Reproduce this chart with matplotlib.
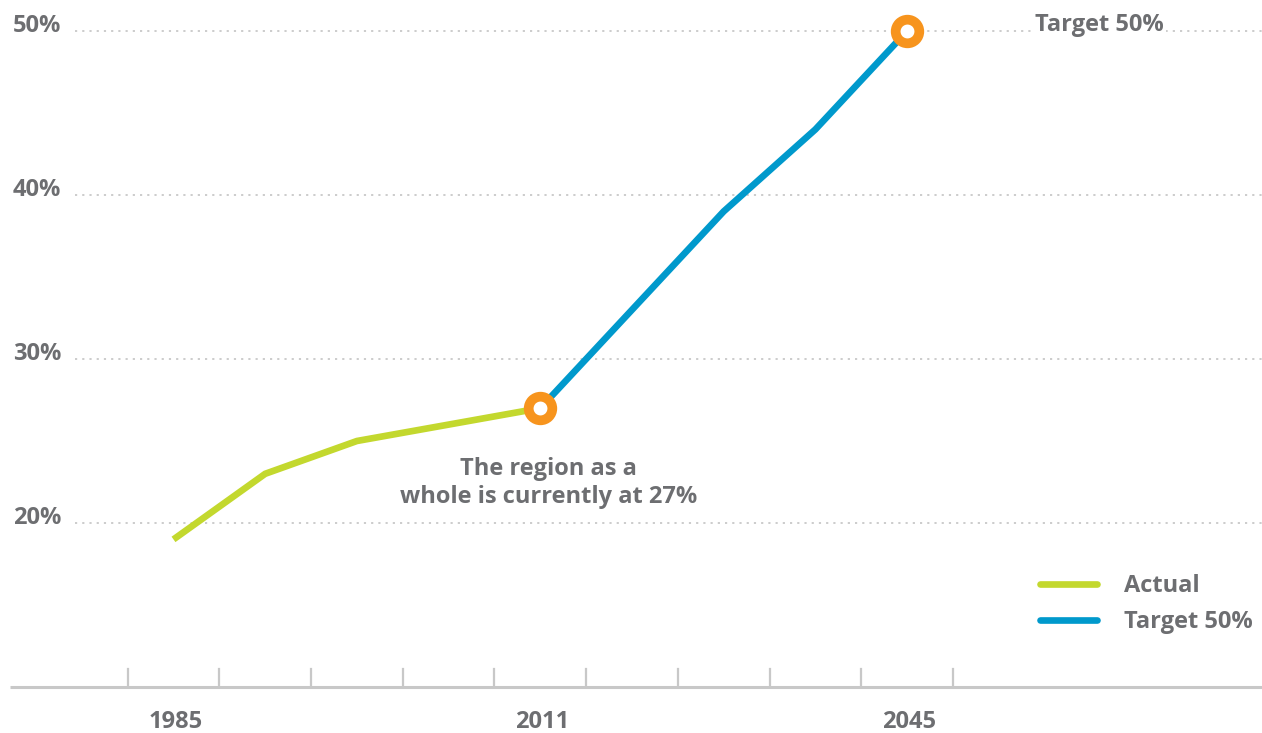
import matplotlib
matplotlib.use("Agg")
import matplotlib.pyplot as plt
import matplotlib.transforms as mtransforms

plt.rcParams['font.family'] = ['Open Sans', 'DejaVu Sans']

# Data
year_labels = ["1985", "2011", "2045"]
label_positions = [0, 4, 8]
actual_x = [0, 1, 2, 4]
actual_y = [19, 23, 25, 27]
target_x = [4, 6, 7, 8]
target_y = [27, 39, 44, 50]
marker_x = [4, 8]
marker_y = [27, 50]
y_ticks = [20, 30, 40, 50]
y_tick_labels = ["20%", "30%", "40%", "50%"]
tick_positions = [i - 0.5 for i in range(10)]

GREEN = "#c3d82e"
BLUE = "#0099cc"
ORANGE = "#f7941d"
TEXT = "#6d6e71"
GRID = "#c8c8c8"
FS = 17

W, H = 1262, 733
fig = plt.figure(figsize=(W / 100, H / 100), dpi=100)
ax = fig.add_axes([0, 0, 1, 1])

dx = 91.7
x0 = 173.5
ax.set_xlim(-x0 / dx, (W - x0) / dx)
ax.set_ylim(10 - (H - 687) / 16.4, 10 + 687 / 16.4)
ax.axis('off')

blend = mtransforms.blended_transform_factory(ax.transAxes, ax.transData)

# grid lines
for v in y_ticks:
    ax.plot([75 / W, 1.0], [v, v], transform=blend, color=GRID, lw=1.3,
            linestyle=(0, (1.2, 2.8)), zorder=1)
for v, lab in zip(y_ticks, y_tick_labels):
    ax.text(13 / W, v + 0.33, lab, transform=blend, ha='left', va='center',
            fontsize=FS, fontweight='bold', color=TEXT)

# x axis baseline and ticks
ax.plot([10 / W, 1.0], [10, 10], transform=blend, color=GRID, lw=2.2,
        solid_capstyle='butt', zorder=1)
for t in tick_positions:
    ax.plot([t, t], [10, 10 + 18 / 16.4], color=GRID, lw=1.6, zorder=1)
for p, lab in zip(label_positions, year_labels):
    ax.text(p + 0.02, 10 - 35 / 16.4, lab, ha='center', va='center',
            fontsize=FS, fontweight='bold', color=TEXT)

# lines
ax.plot(actual_x, actual_y, color=GREEN, lw=4.8, solid_capstyle='butt',
        solid_joinstyle='miter', zorder=3)
ax.plot(target_x, target_y, color=BLUE, lw=4.8, solid_capstyle='butt',
        solid_joinstyle='miter', zorder=3)
ax.plot(marker_x, marker_y, linestyle='none', marker='o', ms=17,
        mfc='white', mec=ORANGE, mew=7.0, zorder=4)

# annotations
ax.text(8 + 192 / dx, 50 + 0.38, "Target 50%", ha='center', va='center',
        fontsize=FS, fontweight='bold', color=TEXT, zorder=5,
        bbox=dict(facecolor='white', edgecolor='none', pad=2))
ax.text(4 + 8 / dx, 10 + (687 - 483) / 16.4,
        "The region as a\nwhole is currently at 27%", ha='center', va='center',
        fontsize=FS, fontweight='bold', color=TEXT, linespacing=1.25)

# legend
for yy, col, lab in [(584, GREEN, "Actual"), (620, BLUE, "Target 50%")]:
    v = 10 + (687 - yy) / 16.4
    ax.plot([(1040 - x0) / dx, (1097 - x0) / dx], [v, v], color=col, lw=4.8,
            solid_capstyle='round')
    ax.text((1124 - x0) / dx, v - 2.5 / 16.4, lab, ha='left', va='center',
            fontsize=FS, fontweight='bold', color=TEXT)

fig.savefig("out.png", dpi=100)
